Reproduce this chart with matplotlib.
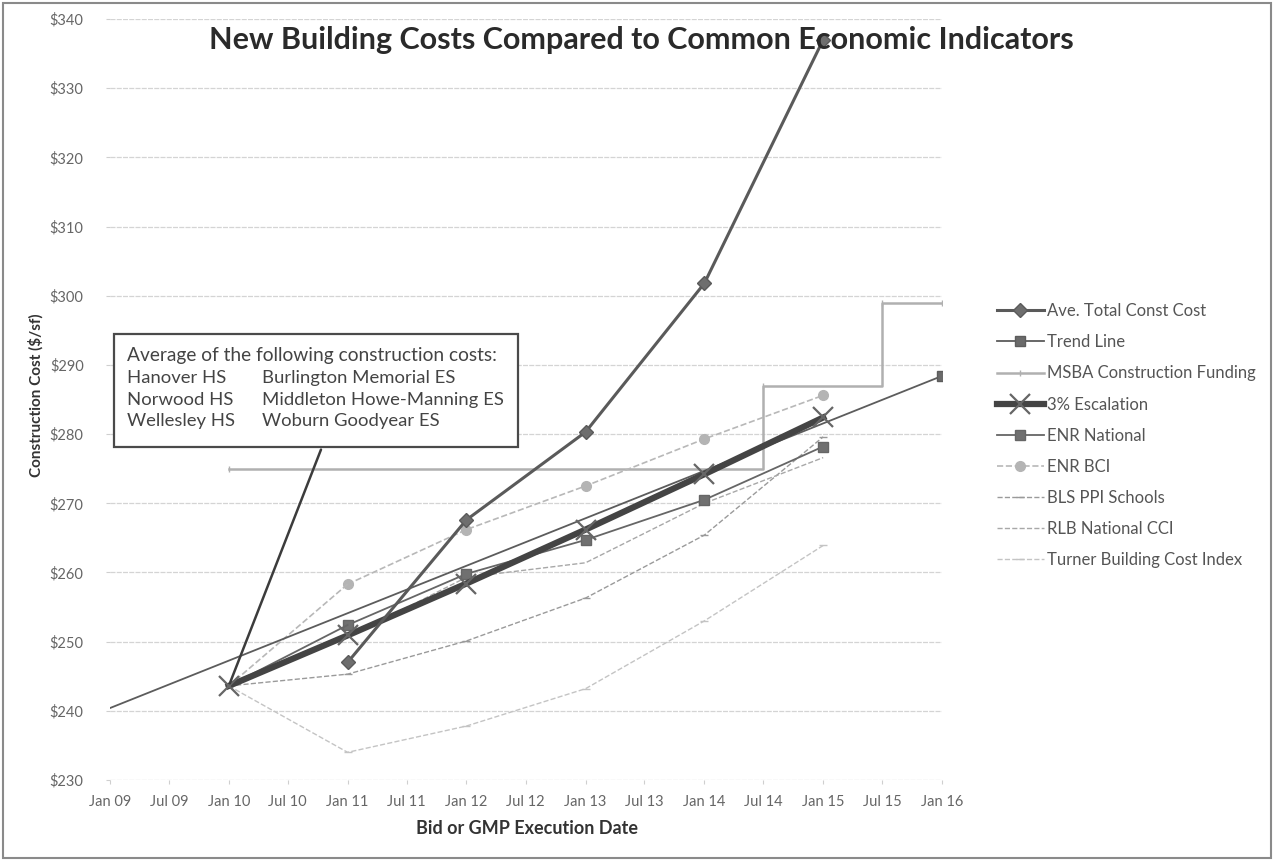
import matplotlib
matplotlib.use("Agg")
import matplotlib.pyplot as plt
import matplotlib.dates as mdates
from matplotlib.patches import Rectangle
import pandas as pd

plt.rcParams["font.family"] = ["Lato", "DejaVu Sans"]

# data ($/sf)
years = pd.to_datetime(["2010-01-01", "2011-01-01", "2012-01-01", "2013-01-01",
                        "2014-01-01", "2015-01-01"])
ave_dates = years[1:]
ave_total = [247.0, 267.6, 280.3, 301.8, 337.0]
trend_dates = pd.to_datetime(["2009-01-01", "2016-01-01"])
trend_line = [240.4, 288.4]
msba_dates = pd.to_datetime(["2010-01-01", "2014-07-01", "2015-07-01", "2016-01-01"])
msba = [275.0, 287.0, 299.0, 299.0]
escalation = [243.6, 250.9, 258.4, 266.2, 274.2, 282.4]
enr_national = [243.6, 252.4, 259.8, 264.7, 270.5, 278.2]
enr_bci = [243.6, 258.3, 266.2, 272.5, 279.3, 285.6]
bls_ppi = [243.6, 245.3, 250.1, 256.3, 265.4, 279.6]
rlb_cci = [243.6, 250.6, 259.3, 261.4, 270.0, 276.6]
turner = [243.6, 234.0, 237.8, 243.2, 253.0, 263.9]

box_title = "Average of the following construction costs:"
box_col1 = ["Hanover HS", "Norwood HS", "Wellesley HS"]
box_col2 = ["Burlington Memorial ES", "Middleton Howe-Manning ES", "Woburn Goodyear ES"]

W, H = 1274, 861
fig = plt.figure(figsize=(W / 100, H / 100), dpi=100)
ax = fig.add_axes([110 / W, 1 - 780 / H, 832 / W, 761 / H])

ax.plot(ave_dates, ave_total, color="#5a5a5a", lw=2.2, marker="D", ms=7,
        mfc="#6e6e6e", mec="#5a5a5a", label="Ave. Total Const Cost", zorder=6)
ax.plot(trend_dates, trend_line, color="#5c5c5c", lw=1.3, marker="s", ms=7,
        mfc="#6a6a6a", markevery=[1], label="Trend Line", zorder=4)
ax.plot(msba_dates, msba, color="#b0b0b0", lw=1.8, drawstyle="steps-post",
        marker="|", ms=4, label="MSBA Construction Funding", zorder=3)
ax.plot(years, escalation, color="#444444", lw=4.5, marker="x", ms=14, mew=1.6,
        mec="#666666", label="3% Escalation", zorder=5)
ax.plot(years[1:], enr_national[1:], color="#666666", lw=1.3, marker="s", ms=7,
        mfc="#707070", label="ENR National", zorder=4)
ax.plot(years[:2], enr_national[:2], color="#666666", lw=1.3, zorder=4)
ax.plot(years[1:], enr_bci[1:], color="#b8b8b8", lw=1.2, ls="--", marker="o", ms=7,
        mfc="#b4b4b4", mec="#b4b4b4", label="ENR BCI", zorder=3)
ax.plot(years[:2], enr_bci[:2], color="#b8b8b8", lw=1.2, ls="--", zorder=3)
ax.plot(years, bls_ppi, color="#9a9a9a", lw=1.0, ls="--", marker="_", ms=6,
        label="BLS PPI Schools", zorder=3)
ax.plot(years, rlb_cci, color="#a8a8a8", lw=1.0, ls="--", label="RLB National CCI", zorder=3)
ax.plot(years, turner, color="#c4c4c4", lw=1.0, ls="--", marker="_", ms=6,
        label="Turner Building Cost Index", zorder=3)

ax.set_ylim(230, 340)
ax.set_yticks(range(230, 341, 10))
ax.set_yticklabels([f"${v}" for v in range(230, 341, 10)])
ax.set_xlim(pd.Timestamp("2009-01-01"), pd.Timestamp("2016-01-01"))
ax.xaxis.set_major_locator(mdates.MonthLocator(bymonth=[1, 7]))
ax.xaxis.set_major_formatter(mdates.DateFormatter("%b %y"))
ax.grid(axis="y", color="#d4d4d4", lw=0.9, ls=(0, (4, 1)))
ax.set_axisbelow(True)
for s in ax.spines.values():
    s.set_visible(False)
ax.tick_params(axis="both", colors="#cfcfcf", labelcolor="#666666", labelsize=10.5,
               length=3)
ax.tick_params(axis="x", pad=8)
ax.tick_params(axis="y", pad=16)

fig.text(641 / W, 1 - 40 / H, "New Building Costs Compared to Common Economic Indicators",
         ha="center", va="center", fontsize=22, fontweight="bold", color="#2a2a2a")
fig.text(36 / W, 1 - 395 / H, "Construction Cost ($/sf)", rotation=90, ha="center",
         va="center", fontsize=11, fontweight="bold", color="#333333")
fig.text(527 / W, 1 - 829 / H, "Bid or GMP Execution Date", ha="center", va="center",
         fontsize=13, fontweight="bold", color="#333333")

# callout box
ax.annotate("", xy=(years[0], escalation[0]), xytext=(322 / W, 1 - 447 / H),
            textcoords="figure fraction",
            arrowprops=dict(arrowstyle="-", color="#3c3c3c", lw=1.8), zorder=7)
fig.patches.append(Rectangle((114 / W, 1 - 447 / H), 404 / W, 113 / H,
                             transform=fig.transFigure, facecolor="white",
                             edgecolor="#4a4a4a", lw=1.6, zorder=8))
fig.text(127 / W, 1 - 356 / H, box_title, fontsize=13.8, color="#444444",
         va="center", zorder=9)
for i, (a, b) in enumerate(zip(box_col1, box_col2)):
    yy = 1 - (378 + 21.5 * i) / H
    fig.text(127 / W, yy, a, fontsize=13.3, color="#444444", va="center", zorder=9)
    fig.text(262 / W, yy, b, fontsize=13.3, color="#444444", va="center", zorder=9)

leg = fig.legend(*ax.get_legend_handles_labels(), loc="upper left",
                 bbox_to_anchor=(982 / W, 1 - 288 / H), frameon=False,
                 fontsize=12, labelspacing=0.91, handlelength=2.8, handletextpad=0.2,
                 labelcolor="#555555")

fig.patches.append(Rectangle((3 / W, 3 / H), 1268 / W, 855 / H, transform=fig.transFigure,
                             facecolor="none", edgecolor="#8a8a8a", lw=1.5))

fig.savefig("out.png", dpi=100)
